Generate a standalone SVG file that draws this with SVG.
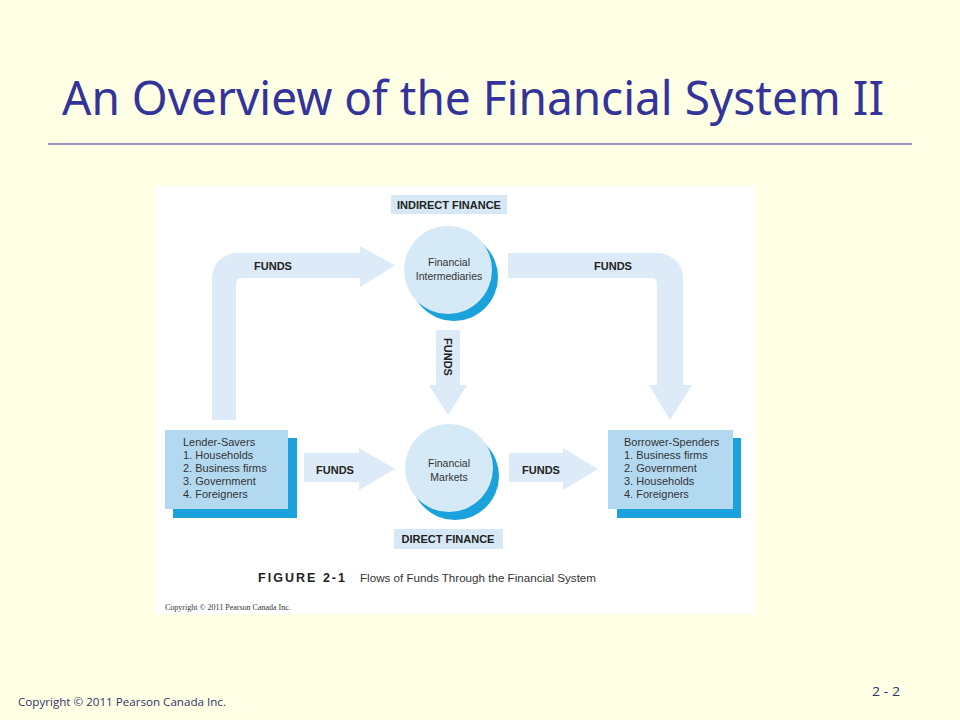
<svg xmlns="http://www.w3.org/2000/svg" width="960" height="720" viewBox="0 0 960 720">
<style>
.lbl{font-family:"Liberation Sans",Arial,sans-serif;font-weight:bold;font-size:11px;fill:#222;text-anchor:middle}
.txt{font-family:"Liberation Sans",Arial,sans-serif;font-size:11px;fill:#333}
.ctxt{font-family:"Liberation Sans",Arial,sans-serif;font-size:10.5px;fill:#333;text-anchor:middle}
.arrow{fill:#DCEBF7}
.tag{fill:#D6E8F5}
.light{fill:#D5E9F7}
.dark{fill:#1BA1DB}
.boxl{fill:#B3D9F1}
</style>
<rect x="0" y="0" width="960" height="720" fill="#FFFFE6"/>
<text x="62" y="115" font-family="'Noto Sans','Open Sans',sans-serif" font-size="48" fill="#333399" textLength="822" lengthAdjust="spacingAndGlyphs">An Overview of the Financial System II</text>
<line x1="48" y1="144" x2="912" y2="144" stroke="#333399" stroke-width="1"/>
<rect x="155" y="186" width="600" height="428" fill="#FFFFFF"/>
<g id="connectors">
<path class="arrow" d="M212,420 V278 A25,25 0 0 1 237,253 H360 V246 L395,265.5 L360,287 V278 H242 Q236,278 236,284 V420 Z"/>
<text class="lbl" x="273" y="270">FUNDS</text>
<path class="arrow" d="M508,253 H658 A25,25 0 0 1 683,278 V385 H692 L670,420 L649,385 H657 V284 Q657,278 651,278 H508 Z"/>
<text class="lbl" x="613" y="270">FUNDS</text>
<path class="arrow" d="M436,330 H460 V385 H467 L448,415 L429,385 H436 Z"/>
<text class="lbl" transform="translate(444,357) rotate(90)" x="0" y="0">FUNDS</text>
<path class="arrow" d="M304,453 H359 V448 L395,469 L359,490 V482 H304 Z"/>
<text class="lbl" x="335" y="474">FUNDS</text>
<path class="arrow" d="M509,453 H563 V448 L598,469 L563,490 V482 H509 Z"/>
<text class="lbl" x="541" y="474">FUNDS</text>
</g>
<g id="indirect-finance">
<rect class="tag" x="391" y="195" width="116" height="19"/>
<text class="lbl" x="449" y="209">INDIRECT FINANCE</text>
</g>
<g id="financial-intermediaries">
<circle class="dark" cx="454" cy="277" r="44"/>
<circle class="light" cx="448" cy="270" r="44"/>
<text class="ctxt" x="449" y="266">Financial</text>
<text class="ctxt" x="449" y="280">Intermediaries</text>
</g>
<g id="financial-markets">
<circle class="dark" cx="455" cy="476" r="44"/>
<circle class="light" cx="449" cy="468" r="44"/>
<text class="ctxt" x="449" y="467">Financial</text>
<text class="ctxt" x="449" y="481">Markets</text>
</g>
<g id="direct-finance">
<rect class="tag" x="394" y="529" width="109" height="20"/>
<text class="lbl" x="448" y="543">DIRECT FINANCE</text>
</g>
<g id="lender-savers">
<rect class="dark" x="173" y="438" width="124" height="80"/>
<rect class="boxl" x="165" y="430" width="123" height="79"/>
<text class="txt" x="183" y="446">Lender-Savers</text>
<text class="txt" x="183" y="459">1. Households</text>
<text class="txt" x="183" y="472">2. Business firms</text>
<text class="txt" x="183" y="485">3. Government</text>
<text class="txt" x="183" y="498">4. Foreigners</text>
</g>
<g id="borrower-spenders">
<rect class="dark" x="617" y="438" width="124" height="80"/>
<rect class="boxl" x="608" y="430" width="125" height="79"/>
<text class="txt" x="624" y="446">Borrower-Spenders</text>
<text class="txt" x="624" y="459">1. Business firms</text>
<text class="txt" x="624" y="472">2. Government</text>
<text class="txt" x="624" y="485">3. Households</text>
<text class="txt" x="624" y="498">4. Foreigners</text>
</g>
<text x="258" y="582" font-family="'Liberation Sans',Arial,sans-serif" font-weight="bold" font-size="12.5" fill="#222" textLength="87" lengthAdjust="spacing">FIGURE 2-1</text>
<text x="360" y="582" font-family="'Liberation Sans',Arial,sans-serif" font-size="11.5" fill="#333" textLength="236" lengthAdjust="spacingAndGlyphs">Flows of Funds Through the Financial System</text>
<text x="165" y="610" font-family="'Liberation Serif','Times New Roman',serif" font-size="8" fill="#333">Copyright © 2011 Pearson Canada Inc.</text>
<text x="18" y="706" font-family="'Open Sans','Noto Sans',sans-serif" font-size="10.5" fill="#333366" textLength="208" lengthAdjust="spacingAndGlyphs">Copyright © 2011 Pearson Canada Inc.</text>
<text x="872" y="696" font-family="'Open Sans','Noto Sans',sans-serif" font-size="12" fill="#333366" textLength="28" lengthAdjust="spacingAndGlyphs">2 - 2</text>
</svg>
